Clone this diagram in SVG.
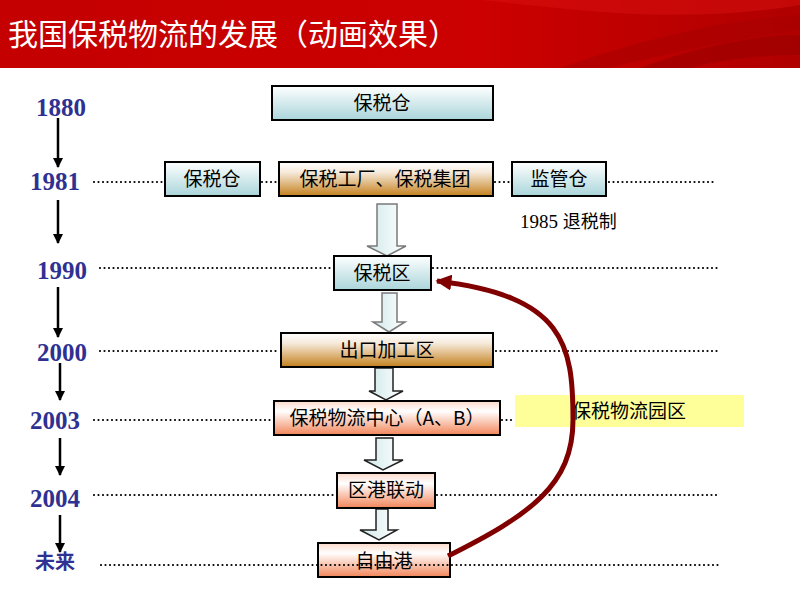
<svg xmlns="http://www.w3.org/2000/svg" width="800" height="600" viewBox="0 0 800 600">
<defs>
  <linearGradient id="gCyan" x1="0" y1="0" x2="0" y2="1">
    <stop offset="0" stop-color="#ffffff"/>
    <stop offset="1" stop-color="#aad5da"/>
  </linearGradient>
  <linearGradient id="gBrown" x1="0" y1="0" x2="0" y2="1">
    <stop offset="0" stop-color="#ffffff"/>
    <stop offset="0.3" stop-color="#f6eadb"/>
    <stop offset="1" stop-color="#c4801c"/>
  </linearGradient>
  <linearGradient id="gSalmon" x1="0" y1="0" x2="0" y2="1">
    <stop offset="0" stop-color="#fbd9c9"/>
    <stop offset="0.3" stop-color="#ffffff"/>
    <stop offset="1" stop-color="#f28559"/>
  </linearGradient>
  <linearGradient id="gArrow" x1="0" y1="0" x2="1" y2="0">
    <stop offset="0" stop-color="#cfe8ea"/>
    <stop offset="1" stop-color="#ffffff"/>
  </linearGradient>
  <linearGradient id="gHead" x1="0" y1="0" x2="1" y2="0">
    <stop offset="0" stop-color="#c40000"/>
    <stop offset="0.6" stop-color="#cc0000"/>
    <stop offset="1" stop-color="#b00000"/>
  </linearGradient>
  <marker id="blk" viewBox="0 0 10 10" refX="9" refY="5" markerWidth="4" markerHeight="4" orient="auto">
    <path d="M0,0 L10,5 L0,10 z" fill="#000"/>
  </marker>
  <marker id="red" viewBox="0 0 10 10" refX="9" refY="5" markerWidth="3.2" markerHeight="3.2" orient="auto" markerUnits="strokeWidth">
    <path d="M0,0 L10,5 L0,10 z" fill="#800000"/>
  </marker>
</defs>
<style>
  .yr{font-family:"Liberation Serif","Noto Sans CJK SC",serif;font-weight:bold;font-size:25px;fill:#2e3192;text-anchor:middle}
  .box{stroke:#000;stroke-width:2}
  .lbl{font-family:"Noto Sans CJK SC","Liberation Sans",sans-serif;font-size:19px;fill:#000;text-anchor:middle}
  .dot{stroke:#000;stroke-width:2.2;stroke-dasharray:0 4.5;stroke-linecap:round;fill:none}
  .tl{stroke:#000;stroke-width:2.5;fill:none}
  .ba{fill:url(#gArrow);stroke:#7a7a7a;stroke-width:1.5}
  .bb{fill:url(#gArrow);stroke:#222;stroke-width:1.5}
</style>

<!-- header -->
<g id="header">
  <rect x="0" y="0" width="800" height="68" fill="url(#gHead)"/>
  <path d="M560,68 C640,40 720,20 800,15 L800,30 C730,40 660,55 610,68 Z" fill="#a80000" opacity="0.6"/>
  <path d="M640,68 C700,45 760,35 800,35 L800,55 C760,55 720,60 690,68 Z" fill="#9a0000" opacity="0.6"/>
  <path d="M480,0 C580,10 680,25 800,5 L800,0 Z" fill="#d81010" opacity="0.5"/>
  <text x="8" y="45" font-family="'Noto Sans CJK SC','Liberation Sans',sans-serif" font-size="30" fill="#ffffff">我国保税物流的发展（动画效果）</text>
</g>

<!-- timeline years -->
<g id="years">
  <text class="yr" x="61" y="116">1880</text>
  <text class="yr" x="55" y="190">1981</text>
  <text class="yr" x="62" y="279">1990</text>
  <text class="yr" x="62" y="361">2000</text>
  <text class="yr" x="55" y="429">2003</text>
  <text class="yr" x="55" y="507">2004</text>
  <text x="55" y="569" font-family="'Noto Sans CJK SC',sans-serif" font-weight="bold" font-size="20" fill="#2e3192" text-anchor="middle">未来</text>
</g>

<!-- connectors -->
<g id="connectors">
  <line class="tl" x1="58" y1="118" x2="58" y2="167" marker-end="url(#blk)"/>
  <line class="tl" x1="58" y1="200" x2="58" y2="243" marker-end="url(#blk)"/>
  <line class="tl" x1="58" y1="287" x2="58" y2="337" marker-end="url(#blk)"/>
  <line class="tl" x1="60" y1="363" x2="60" y2="400" marker-end="url(#blk)"/>
  <line class="tl" x1="60" y1="438" x2="60" y2="475" marker-end="url(#blk)"/>
  <line class="tl" x1="60" y1="515" x2="60" y2="552" marker-end="url(#blk)"/>

  <!-- dotted lines -->
  <line class="dot" x1="94" y1="182" x2="164" y2="182"/>
  <line class="dot" x1="262" y1="182" x2="278" y2="182"/>
  <line class="dot" x1="495" y1="182" x2="511" y2="182"/>
  <line class="dot" x1="609" y1="182" x2="715" y2="182"/>
  <line class="dot" x1="100" y1="268" x2="334" y2="268"/>
  <line class="dot" x1="433" y1="268" x2="720" y2="268"/>
  <line class="dot" x1="100" y1="351" x2="280" y2="351"/>
  <line class="dot" x1="496" y1="351" x2="720" y2="351"/>
  <line class="dot" x1="94" y1="420" x2="273" y2="420"/>
  <line class="dot" x1="502" y1="420" x2="515" y2="420"/>
  <line class="dot" x1="94" y1="495" x2="336" y2="495"/>
  <line class="dot" x1="437" y1="495" x2="720" y2="495"/>

  <!-- block arrows -->
  <path class="ba" d="M377,204 H397 V246 H406 L387,256 L367,246 H377 Z"/>
  <path class="ba" d="M382,293 H397 V322 H405 L389,332 L373,322 H382 Z"/>
  <path class="bb" d="M375,368 H393 V391 H403 L386,400 L369,391 H375 Z"/>
  <path class="bb" d="M376,438 H393 V460 H403 L383,470 L364,460 H376 Z"/>
  <path class="bb" d="M376,509 H388 V530 H397 L379,540 L360,530 H376 Z"/>
</g>

<!-- nodes -->
<g id="n1880">
  <rect class="box" x="272" y="86" width="221" height="34" fill="url(#gCyan)"/>
  <text class="lbl" x="382" y="110">保税仓</text>
</g>
<g id="n1981a">
  <rect class="box" x="165" y="162" width="95" height="34" fill="url(#gCyan)"/>
  <text class="lbl" x="212" y="186">保税仓</text>
</g>
<g id="n1981b">
  <rect class="box" x="279" y="162" width="214" height="34" fill="url(#gBrown)"/>
  <text class="lbl" x="385" y="186">保税工厂、保税集团</text>
</g>
<g id="n1981c">
  <rect class="box" x="512" y="162" width="94" height="34" fill="url(#gCyan)"/>
  <text class="lbl" x="559" y="186">监管仓</text>
</g>
<g id="note1985">
  <text x="520" y="228" font-family="'Liberation Serif','Noto Sans CJK SC',serif" font-size="19" fill="#000">1985 <tspan font-family="'Noto Sans CJK SC',sans-serif" font-size="18">退税制</tspan></text>
</g>
<g id="n1990">
  <rect class="box" x="334" y="256" width="97" height="34" fill="url(#gCyan)"/>
  <text class="lbl" x="382" y="280">保税区</text>
</g>
<g id="n2000">
  <rect class="box" x="281" y="333" width="212" height="34" fill="url(#gBrown)"/>
  <text class="lbl" x="387" y="357">出口加工区</text>
</g>
<g id="n2003">
  <rect class="box" x="274" y="401" width="226" height="34" fill="url(#gSalmon)"/>
  <text class="lbl" x="387" y="425">保税物流中心（A、B）</text>
</g>
<g id="park">
  <rect x="515" y="395" width="229" height="32" fill="#ffff99"/>
  <text class="lbl" x="629" y="418">保税物流园区</text>
</g>
<g id="n2004">
  <rect class="box" x="337" y="473" width="98" height="35" fill="url(#gSalmon)"/>
  <text class="lbl" x="386" y="497">区港联动</text>
</g>
<g id="nfuture">
  <rect class="box" x="318" y="543" width="132" height="34" fill="url(#gSalmon)"/>
  <text class="lbl" x="384" y="568">自由港</text>
  <line class="dot" x1="101" y1="565" x2="720" y2="565"/>
</g>

<!-- red curved arrow -->
<g id="curve">
  <path d="M448,556 C530,515 573,485 573,420 C573,345 565,296 437,281" fill="none" stroke="#800000" stroke-width="5" marker-end="url(#red)"/>
</g>
</svg>
